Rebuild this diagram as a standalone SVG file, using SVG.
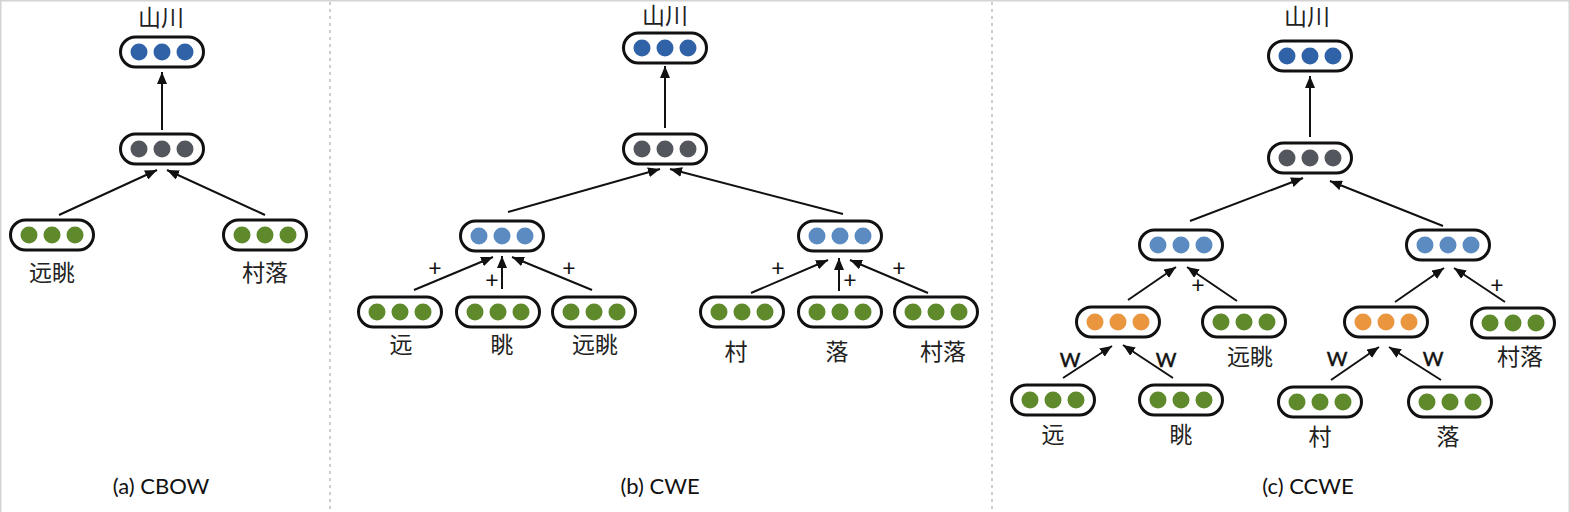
<svg xmlns="http://www.w3.org/2000/svg" width="1570" height="512" viewBox="0 0 1570 512">
<style>
.box{fill:#fff;stroke:#111;stroke-width:3}
.db{fill:#3062a8}
.lb{fill:#5b8bc0}
.gr{fill:#5f8a2c}
.gy{fill:#54565e}
.or{fill:#e9963f}
.cjk{font-family:"Noto Sans CJK SC","Noto Sans",sans-serif;font-size:23px;fill:#222;text-anchor:middle}
.op{font-family:"Lato","Liberation Sans",sans-serif;font-size:23px;fill:#111;text-anchor:middle}
.w{font-family:"Lato","Liberation Sans",sans-serif;font-size:20px;fill:#111;stroke:#111;stroke-width:0.5;text-anchor:middle}
.cap{font-family:"Lato","Liberation Sans",sans-serif;font-size:22px;fill:#111;text-anchor:middle}
.edge{stroke:#111;stroke-width:2;fill:none;marker-end:url(#ah)}
.frame{stroke:#d4d4d4;stroke-width:1.5;fill:none}
.div{stroke:#bdbdbd;stroke-width:1.5;stroke-dasharray:3 4;fill:none}
</style>
<defs>
<marker id="ah" markerUnits="userSpaceOnUse" markerWidth="12" markerHeight="10" refX="12" refY="5" orient="auto">
<path d="M0,0 L12,5 L0,10 z" fill="#111"/>
</marker>
</defs>
<rect width="1570" height="512" fill="#fff"/>
<g id="frame">
<path class="frame" d="M0.75,512 V0.75 H1569.25 V512"/>
<path class="div" d="M330,2 V512"/>
<path class="div" d="M992,2 V512"/>
</g>

<g id="connectors">
<path class="edge" d="M162,130 L162,72"/>
<path class="edge" d="M59,215 L157,170"/>
<path class="edge" d="M265,215 L167,170"/>
<path class="edge" d="M665,128 L665,66"/>
<path class="edge" d="M508,212 L660,169"/>
<path class="edge" d="M843,214 L670,169"/>
<path class="edge" d="M414,290 L493,257"/>
<path class="edge" d="M502,289 L502,256"/>
<path class="edge" d="M592,290 L512,257"/>
<path class="edge" d="M751,293 L828,260"/>
<path class="edge" d="M839,291 L839,258"/>
<path class="edge" d="M928,293 L850,260"/>
<path class="edge" d="M1310,137 L1310,76"/>
<path class="edge" d="M1190,221 L1303,178"/>
<path class="edge" d="M1443,226 L1330,181"/>
<path class="edge" d="M1128,300 L1176,267"/>
<path class="edge" d="M1237,301 L1187,267"/>
<path class="edge" d="M1395,302 L1444,268"/>
<path class="edge" d="M1505,302 L1454,268"/>
<path class="edge" d="M1063,378 L1112,346"/>
<path class="edge" d="M1173,378 L1123,345"/>
<path class="edge" d="M1331,380 L1379,347"/>
<path class="edge" d="M1441,380 L1389,347"/>
</g>

<g id="edge-labels">
<text class="op" x="435" y="276">+</text>
<text class="op" x="492" y="288">+</text>
<text class="op" x="569" y="276">+</text>
<text class="op" x="778" y="276">+</text>
<text class="op" x="850" y="288">+</text>
<text class="op" x="899" y="276">+</text>
<text class="op" x="1198" y="293">+</text>
<text class="op" x="1497" y="293">+</text>
<text class="w" x="1070" y="367">W</text>
<text class="w" x="1166" y="367">W</text>
<text class="w" x="1337" y="366">W</text>
<text class="w" x="1433" y="366">W</text>
</g>

<g id="a_top" transform="translate(162,52)"><rect class="box" x="-41.5" y="-15" width="83" height="30" rx="15"/><circle class="db" cx="-23" r="8.5"/><circle class="db" r="8.5"/><circle class="db" cx="23" r="8.5"/><text class="cjk" x="-1" y="-26">山川</text></g>
<g id="a_mid" transform="translate(162,149)"><rect class="box" x="-41.5" y="-15" width="83" height="30" rx="15"/><circle class="gy" cx="-23" r="8.5"/><circle class="gy" r="8.5"/><circle class="gy" cx="23" r="8.5"/></g>
<g id="a_yuantiao" transform="translate(52,235)"><rect class="box" x="-41.5" y="-15" width="83" height="30" rx="15"/><circle class="gr" cx="-23" r="8.5"/><circle class="gr" r="8.5"/><circle class="gr" cx="23" r="8.5"/><text class="cjk" x="0" y="46">远眺</text></g>
<g id="a_cunluo" transform="translate(265,235)"><rect class="box" x="-41.5" y="-15" width="83" height="30" rx="15"/><circle class="gr" cx="-23" r="8.5"/><circle class="gr" r="8.5"/><circle class="gr" cx="23" r="8.5"/><text class="cjk" x="0" y="46">村落</text></g>

<g id="b_top" transform="translate(665,48)"><rect class="box" x="-41.5" y="-15" width="83" height="30" rx="15"/><circle class="db" cx="-23" r="8.5"/><circle class="db" r="8.5"/><circle class="db" cx="23" r="8.5"/><text class="cjk" x="0" y="-24">山川</text></g>
<g id="b_mid" transform="translate(665,149)"><rect class="box" x="-41.5" y="-15" width="83" height="30" rx="15"/><circle class="gy" cx="-23" r="8.5"/><circle class="gy" r="8.5"/><circle class="gy" cx="23" r="8.5"/></g>
<g id="b_left" transform="translate(502,236)"><rect class="box" x="-41.5" y="-15" width="83" height="30" rx="15"/><circle class="lb" cx="-23" r="8.5"/><circle class="lb" r="8.5"/><circle class="lb" cx="23" r="8.5"/></g>
<g id="b_right" transform="translate(840,236)"><rect class="box" x="-41.5" y="-15" width="83" height="30" rx="15"/><circle class="lb" cx="-23" r="8.5"/><circle class="lb" r="8.5"/><circle class="lb" cx="23" r="8.5"/></g>
<g id="b_yuan" transform="translate(400,312)"><rect class="box" x="-41.5" y="-15" width="83" height="30" rx="15"/><circle class="gr" cx="-23" r="8.5"/><circle class="gr" r="8.5"/><circle class="gr" cx="23" r="8.5"/><text class="cjk" x="1" y="41">远</text></g>
<g id="b_tiao" transform="translate(498,312)"><rect class="box" x="-41.5" y="-15" width="83" height="30" rx="15"/><circle class="gr" cx="-23" r="8.5"/><circle class="gr" r="8.5"/><circle class="gr" cx="23" r="8.5"/><text class="cjk" x="4" y="41">眺</text></g>
<g id="b_yuantiao" transform="translate(594,312)"><rect class="box" x="-41.5" y="-15" width="83" height="30" rx="15"/><circle class="gr" cx="-23" r="8.5"/><circle class="gr" r="8.5"/><circle class="gr" cx="23" r="8.5"/><text class="cjk" x="1" y="41">远眺</text></g>
<g id="b_cun" transform="translate(742,312)"><rect class="box" x="-41.5" y="-15" width="83" height="30" rx="15"/><circle class="gr" cx="-23" r="8.5"/><circle class="gr" r="8.5"/><circle class="gr" cx="23" r="8.5"/><text class="cjk" x="-6" y="48">村</text></g>
<g id="b_luo" transform="translate(840,312)"><rect class="box" x="-41.5" y="-15" width="83" height="30" rx="15"/><circle class="gr" cx="-23" r="8.5"/><circle class="gr" r="8.5"/><circle class="gr" cx="23" r="8.5"/><text class="cjk" x="-3" y="48">落</text></g>
<g id="b_cunluo" transform="translate(936,312)"><rect class="box" x="-41.5" y="-15" width="83" height="30" rx="15"/><circle class="gr" cx="-23" r="8.5"/><circle class="gr" r="8.5"/><circle class="gr" cx="23" r="8.5"/><text class="cjk" x="7" y="48">村落</text></g>

<g id="c_top" transform="translate(1310,56)"><rect class="box" x="-41.5" y="-15" width="83" height="30" rx="15"/><circle class="db" cx="-23" r="8.5"/><circle class="db" r="8.5"/><circle class="db" cx="23" r="8.5"/><text class="cjk" x="-3" y="-31">山川</text></g>
<g id="c_mid" transform="translate(1310,158)"><rect class="box" x="-41.5" y="-15" width="83" height="30" rx="15"/><circle class="gy" cx="-23" r="8.5"/><circle class="gy" r="8.5"/><circle class="gy" cx="23" r="8.5"/></g>
<g id="c_left" transform="translate(1181,245)"><rect class="box" x="-41.5" y="-15" width="83" height="30" rx="15"/><circle class="lb" cx="-23" r="8.5"/><circle class="lb" r="8.5"/><circle class="lb" cx="23" r="8.5"/></g>
<g id="c_right" transform="translate(1448,245)"><rect class="box" x="-41.5" y="-15" width="83" height="30" rx="15"/><circle class="lb" cx="-23" r="8.5"/><circle class="lb" r="8.5"/><circle class="lb" cx="23" r="8.5"/></g>
<g id="c_char_left" transform="translate(1118,322)"><rect class="box" x="-41.5" y="-15" width="83" height="30" rx="15"/><circle class="or" cx="-23" r="8.5"/><circle class="or" r="8.5"/><circle class="or" cx="23" r="8.5"/></g>
<g id="c_char_right" transform="translate(1386,322)"><rect class="box" x="-41.5" y="-15" width="83" height="30" rx="15"/><circle class="or" cx="-23" r="8.5"/><circle class="or" r="8.5"/><circle class="or" cx="23" r="8.5"/></g>
<g id="c_yuantiao" transform="translate(1244,322)"><rect class="box" x="-41.5" y="-15" width="83" height="30" rx="15"/><circle class="gr" cx="-23" r="8.5"/><circle class="gr" r="8.5"/><circle class="gr" cx="23" r="8.5"/><text class="cjk" x="6" y="43">远眺</text></g>
<g id="c_cunluo" transform="translate(1513,323)"><rect class="box" x="-41.5" y="-15" width="83" height="30" rx="15"/><circle class="gr" cx="-23" r="8.5"/><circle class="gr" r="8.5"/><circle class="gr" cx="23" r="8.5"/><text class="cjk" x="7" y="42">村落</text></g>
<g id="c_yuan" transform="translate(1053,400)"><rect class="box" x="-41.5" y="-15" width="83" height="30" rx="15"/><circle class="gr" cx="-23" r="8.5"/><circle class="gr" r="8.5"/><circle class="gr" cx="23" r="8.5"/><text class="cjk" x="0" y="43">远</text></g>
<g id="c_tiao" transform="translate(1181,400)"><rect class="box" x="-41.5" y="-15" width="83" height="30" rx="15"/><circle class="gr" cx="-23" r="8.5"/><circle class="gr" r="8.5"/><circle class="gr" cx="23" r="8.5"/><text class="cjk" x="0" y="43">眺</text></g>
<g id="c_cun" transform="translate(1320,402)"><rect class="box" x="-41.5" y="-15" width="83" height="30" rx="15"/><circle class="gr" cx="-23" r="8.5"/><circle class="gr" r="8.5"/><circle class="gr" cx="23" r="8.5"/><text class="cjk" x="0" y="43">村</text></g>
<g id="c_luo" transform="translate(1450,402)"><rect class="box" x="-41.5" y="-15" width="83" height="30" rx="15"/><circle class="gr" cx="-23" r="8.5"/><circle class="gr" r="8.5"/><circle class="gr" cx="23" r="8.5"/><text class="cjk" x="-2" y="43">落</text></g>

<g id="captions">
<text class="cap" x="161" y="494">(a) CBOW</text>
<text class="cap" x="660" y="494">(b) CWE</text>
<text class="cap" x="1308" y="494">(c) CCWE</text>
</g>
</svg>
